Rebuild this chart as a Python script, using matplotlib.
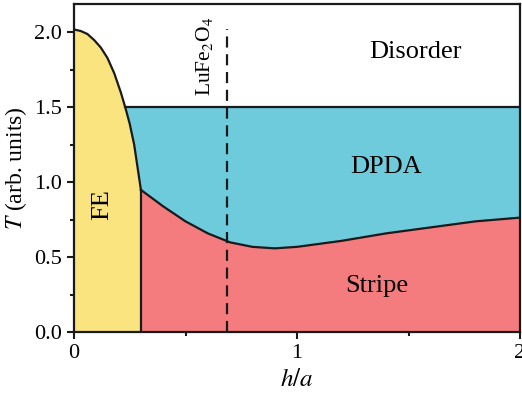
import numpy as np
import matplotlib
matplotlib.use("Agg")
import matplotlib.pyplot as plt

plt.rcParams['font.family'] = ['Liberation Serif', 'DejaVu Serif']
plt.rcParams['mathtext.fontset'] = 'stix'

# FE boundary (h/a, T)
fe_h = [0.0, 0.03, 0.06, 0.09, 0.12, 0.15, 0.18, 0.21, 0.23, 0.25, 0.27, 0.285, 0.30]
fe_T = [2.02, 2.01, 1.99, 1.95, 1.90, 1.83, 1.73, 1.60, 1.50, 1.39, 1.25, 1.10, 0.95]

# Stripe / DPDA boundary
st_h = [0.30, 0.40, 0.50, 0.60, 0.70, 0.80, 0.90, 1.00, 1.20, 1.40, 1.60, 1.80, 2.00]
st_T = [0.95, 0.84, 0.74, 0.66, 0.60, 0.57, 0.56, 0.57, 0.61, 0.66, 0.70, 0.74, 0.765]

T_disorder = 1.5
h_lufe = 0.685

c_fe = '#FAE480'
c_dpda = '#6DCBDC'
c_stripe = '#F47C7F'

fig = plt.figure(figsize=(5.22, 3.99), dpi=100)
ax = fig.add_axes([74/522, 1-332.3/399, 446/522, 328.3/399])

fe_h = np.array(fe_h)
fe_T = np.array(fe_T)
st_h = np.array(st_h)
st_T = np.array(st_T)

# FE region
ax.fill(np.r_[fe_h, fe_h[-1], 0], np.r_[fe_T, 0, 0], color=c_fe, lw=0)
# Stripe region
ax.fill(np.r_[st_h, st_h[-1], st_h[0]], np.r_[st_T, 0, 0], color=c_stripe, lw=0)
# DPDA region
m = fe_T <= T_disorder
ax.fill(np.r_[fe_h[m], st_h[1:], st_h[-1]], np.r_[fe_T[m], st_T[1:], T_disorder],
        color=c_dpda, lw=0)

lw = 1.6
ax.plot(fe_h, fe_T, color='#1a1a1a', lw=lw)
ax.plot(st_h, st_T, color='#1a1a1a', lw=lw)
ax.plot([fe_h[-1], fe_h[-1]], [0, fe_T[-1]], color='#1a1a1a', lw=lw)
ax.plot([fe_h[m][0], 2.0], [T_disorder, T_disorder], color='#1a1a1a', lw=lw)
ax.plot([h_lufe, h_lufe], [0, 2.02], color='#1a1a1a', lw=lw, ls=(0, (5, 3)))

ax.text(h_lufe - 0.1, 1.84, r'LuFe$_2$O$_4$', rotation=90, ha='center', va='center', fontsize=15.5)
ax.text(1.53, 1.87, 'Disorder', ha='center', va='center', fontsize=19)
ax.text(1.40, 1.10, 'DPDA', ha='center', va='center', fontsize=19)
ax.text(1.36, 0.31, 'Stripe', ha='center', va='center', fontsize=19)
ax.text(0.125, 0.85, 'FE', rotation=90, ha='center', va='center', fontsize=19)

ax.set_xlim(0, 2)
ax.set_ylim(0, 2.19)
ax.set_xticks([0, 1, 2])
ax.set_xticklabels(['0', '1', '2'])
ax.set_xticks([0.5, 1.5], minor=True)
ax.set_yticks([0, 0.5, 1.0, 1.5, 2.0])
ax.set_yticklabels(['0.0', '0.5', '1.0', '1.5', '2.0'])
ax.set_yticks([0.25, 0.75, 1.25, 1.75], minor=True)
ax.tick_params(which='both', direction='out', width=1.5, labelsize=16, color='#1a1a1a')
ax.tick_params(which='major', length=5)
ax.tick_params(which='minor', length=3)
for s in ax.spines.values():
    s.set_linewidth(1.6)
    s.set_color('#1a1a1a')

ax.set_xlabel(r'$h/a$', fontsize=18)
ax.set_ylabel(r'$T$ (arb. units)', fontsize=17)

fig.savefig('out.png', dpi=100)
